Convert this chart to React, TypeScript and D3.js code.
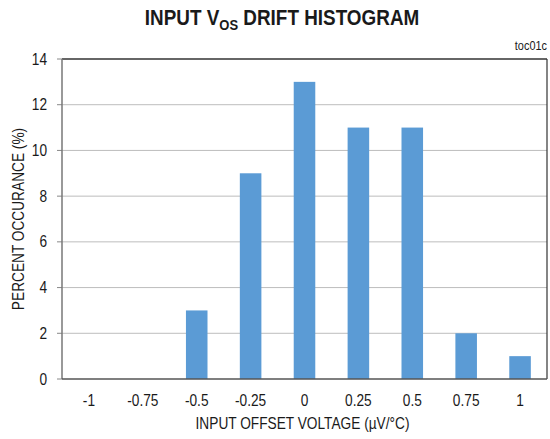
import React from "react";
import * as d3 from "d3";

const categories = ["-1", "-0.75", "-0.5", "-0.25", "0", "0.25", "0.5", "0.75", "1"];
const values = [0, 0, 3, 9, 13, 11, 11, 2, 1];
const yTicks = [0, 2, 4, 6, 8, 10, 12, 14];

const W = 550, H = 439;
const M = { left: 62, right: 547, top: 59, bottom: 379 };
const FONT = "'Liberation Sans', Arial, sans-serif";
const SX = 0.84;

function T({ x, y, anchor = "middle", size = 16.3, rotate = 0, weight = "normal", children }: any) {
  return (
    <text
      transform={`translate(${x},${y}) rotate(${rotate}) scale(${SX},1)`}
      textAnchor={anchor}
      fontSize={size}
      fontWeight={weight}
      fill="#1a1a1a"
    >
      {children}
    </text>
  );
}

export default function App() {
  const y = d3.scaleLinear().domain([0, 14]).range([M.bottom, M.top]);
  const band = d3.scaleBand<string>().domain(categories).range([M.left, M.right]);
  const bw = band.bandwidth() / 2.5;
  return (
    <svg width={W} height={H} style={{ position: "absolute", left: 0, top: 0, background: "#fff" }} fontFamily={FONT}>
      <T x={282} y={25} size={22.5} weight="bold">
        INPUT V<tspan fontSize={15.5} dy={5}>OS</tspan><tspan dy={-5}> DRIFT HISTOGRAM</tspan>
      </T>
      <T x={547} y={50} anchor="end" size={13}>toc01c</T>
      {yTicks.map((t) => (
        <g key={t}>
          {t > 0 && t < 14 && <line x1={M.left} x2={M.right} y1={y(t)} y2={y(t)} stroke="#bdbdbd" strokeWidth={1} />}
          <line x1={M.left - 5} x2={M.left} y1={y(t)} y2={y(t)} stroke="#888" />
          <T x={47} y={y(t) + 5.5} anchor="end">{t}</T>
        </g>
      ))}
      {categories.map((c, i) => (
        <rect key={c} x={band(c)! + band.bandwidth() / 2 - bw / 2} width={bw} y={y(values[i])} height={y(0) - y(values[i])} fill="#5b9bd5" />
      ))}
      <line x1={M.left} x2={M.right} y1={M.top} y2={M.top} stroke="#333" strokeWidth={1.5} />
      <line x1={M.right} x2={M.right} y1={M.top} y2={M.bottom} stroke="#333" strokeWidth={1.2} />
      <line x1={M.left} x2={M.left} y1={M.top} y2={M.bottom} stroke="#777" strokeWidth={1.5} />
      <line x1={M.left} x2={M.right} y1={M.bottom} y2={M.bottom} stroke="#555" strokeWidth={1.5} />
      {categories.map((c) => (
        <T key={c} x={band(c)! + band.bandwidth() / 2} y={406}>{c}</T>
      ))}
      <T x={(M.left + M.right) / 2 - 2} y={429}>INPUT OFFSET VOLTAGE (µV/°C)</T>
      <T x={24} y={(M.top + M.bottom) / 2} rotate={-90}>PERCENT OCCURANCE (%)</T>
    </svg>
  );
}
